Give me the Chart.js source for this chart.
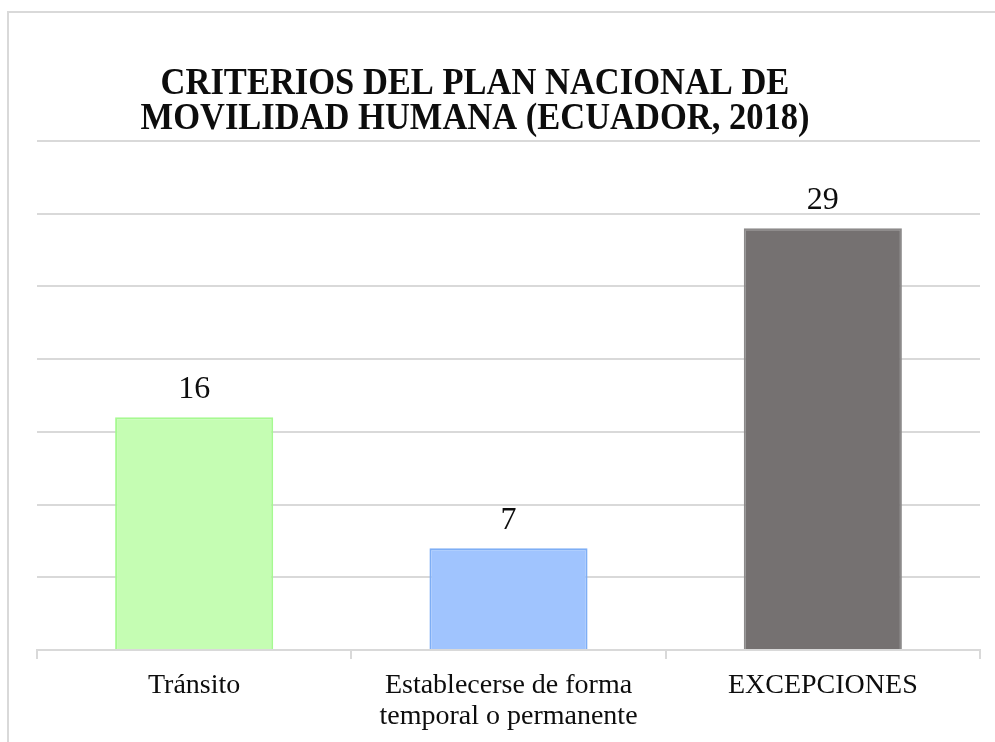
<!DOCTYPE html>
<html>
<head>
<meta charset="utf-8">
<script src="https://cdn.jsdelivr.net/npm/chart.js@4.4.1/dist/chart.umd.min.js"></script>
<style>
  html, body { margin: 0; padding: 0; background: #fff; }
  #wrap { position: relative; width: 995px; height: 742px; }
  #frame {
    position: absolute; left: 7px; top: 11px; right: 0; bottom: 0;
    border-left: 2px solid #d9d9d9; border-top: 2px solid #d9d9d9;
    pointer-events: none;
  }
  canvas { position: absolute; left: 0; top: 0; }
</style>
</head>
<body>
<div id="wrap">
  <canvas id="criteriosChart" width="995" height="742"></canvas>
  <div id="frame"></div>
</div>
<script>
const tituloLineas = ["CRITERIOS DEL PLAN NACIONAL DE", "MOVILIDAD HUMANA (ECUADOR, 2018)"];
const categorias = [["Tránsito"], ["Establecerse de forma", "temporal o permanente"], ["EXCEPCIONES"]];
const valores = [16, 7, 29];
const coloresRelleno = ["#c5fdb3", "#a0c4fe", "#757171"];
const coloresBorde = ["#a6f991", "#7eaef5", "#8c8a8a"];
const ejeMax = 35;
const ejePaso = 5;

// etiquetas de valor encima de cada barra
const etiquetasValor = {
  id: "etiquetasValor",
  afterDatasetsDraw(chart) {
    const ctx = chart.ctx;
    const meta = chart.getDatasetMeta(0);
    ctx.save();
    ctx.font = "32px 'Liberation Serif', 'Times New Roman', serif";
    ctx.fillStyle = "#0d0d0d";
    ctx.textAlign = "center";
    ctx.textBaseline = "alphabetic";
    meta.data.forEach((bar, i) => {
      ctx.fillText(String(valores[i]), bar.x, bar.y - 19);
    });
    ctx.restore();
  }
};

// titulo dibujado a mano (algo estirado en vertical, como en el original)
const tituloPropio = {
  id: "tituloPropio",
  afterDraw(chart) {
    const ctx = chart.ctx;
    ctx.save();
    ctx.font = "bold 34.5px 'Liberation Serif', 'Times New Roman', serif";
    ctx.fillStyle = "#0d0d0d";
    ctx.textAlign = "center";
    ctx.textBaseline = "alphabetic";
    ctx.scale(1, 1.12);
    tituloLineas.forEach((linea, i) => {
      ctx.fillText(linea, 475, (94 + i * 35) / 1.12);
    });
    ctx.restore();
  }
};

document.addEventListener("DOMContentLoaded", () => {
  const ctx = document.getElementById("criteriosChart").getContext("2d");
  new Chart(ctx, {
    type: "bar",
    data: {
      labels: categorias,
      datasets: [
        {
          label: "Criterios",
          data: valores,
          backgroundColor: coloresRelleno,
          borderColor: coloresBorde,
          borderWidth: 2,
          borderSkipped: "bottom",
          barPercentage: 0.503,
          categoryPercentage: 1,
        },
      ],
    },
    options: {
      responsive: false,
      animation: false,
      layout: {
        padding: { top: 141, left: 37, right: 15, bottom: 0 },
      },
      plugins: {
        legend: { display: false },
        title: { display: false },
        tooltip: { enabled: false },
      },
      scales: {
        x: {
          offset: true,
          grid: {
            offset: true,
            drawOnChartArea: false,
            drawTicks: true,
            tickLength: 9,
            color: "#d9d9d9",
            lineWidth: 2,
          },
          border: { display: true, color: "#d9d9d9", width: 2 },
          ticks: {
            color: "#0d0d0d",
            padding: 11,
            maxRotation: 0,
            autoSkip: false,
            font: { family: "'Liberation Serif', 'Times New Roman', serif", size: 28, lineHeight: 1.12 },
          },
          afterFit(axis) { axis.height = 92; },
        },
        y: {
          min: 0,
          max: ejeMax,
          ticks: { display: false, stepSize: ejePaso },
          grid: { color: "#d9d9d9", lineWidth: 2, drawTicks: false },
          border: { display: false },
          afterFit(axis) { axis.width = 0; },
        },
      },
    },
    plugins: [etiquetasValor, tituloPropio],
  });
});
</script>
</body>
</html>
